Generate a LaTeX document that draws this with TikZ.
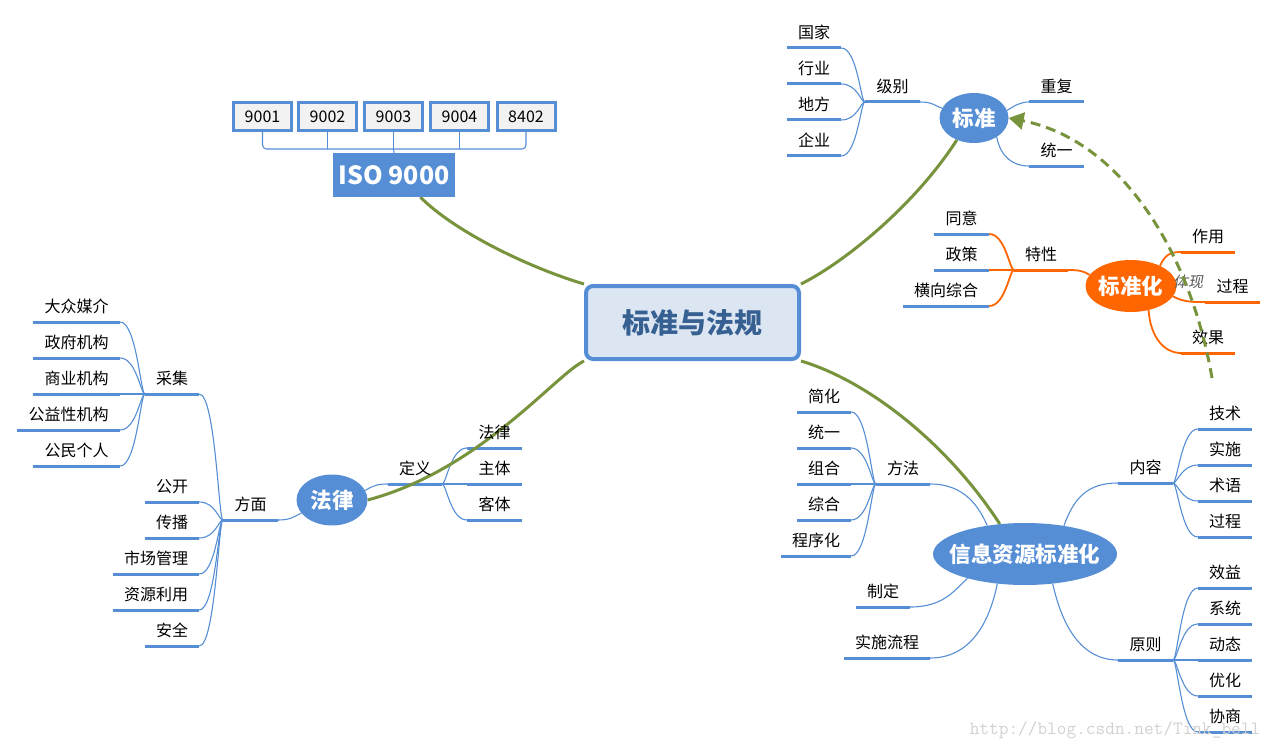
\documentclass[tikz,border=0pt]{standalone}
\usepackage{fontspec}
\setmainfont{Noto Sans CJK SC}
\newfontfamily\slantfont[FakeSlant=0.2]{Noto Sans CJK SC}
\usepackage{tikz}
\usetikzlibrary{arrows.meta,backgrounds,calc,shapes.geometric}

\definecolor{mapblue}{HTML}{558ED5}
\definecolor{rootfill}{HTML}{DCE6F2}
\definecolor{roottext}{HTML}{376092}
\definecolor{maporange}{HTML}{FF6600}
\definecolor{mapgreen}{HTML}{77933C}
\definecolor{boxfill}{HTML}{F2F2F2}
\definecolor{notegray}{HTML}{595959}

\begin{document}
\begin{tikzpicture}[x=1pt, y=-1pt,
    topic/.style={anchor=south, inner sep=0pt, text height=14pt, text depth=9pt,
      font=\fontsize{16}{16}\selectfont},
    bubble/.style={ellipse, fill=mapblue, inner xsep=-12pt, inner ysep=0pt, text=white,
      font=\fontsize{21.5}{22}\selectfont\bfseries},
    numbox/.style={draw=mapblue, line width=3pt, fill=boxfill, minimum width=58pt,
      minimum height=28pt, inner sep=0pt, font=\fontsize{16}{16}\selectfont},
    thinlink/.style={mapblue, line width=1.1pt},
    olink/.style={maporange, line width=1.8pt},
    uline/.style={mapblue, line width=3pt},
    ouline/.style={maporange, line width=3pt},
    trunk/.style={mapgreen, line width=3pt},
    lbranch/.style={to path={.. controls +(-4,0) and +(16,0) .. (\tikztotarget) \tikztonodes}},
    rbranch/.style={to path={.. controls +(4,0) and +(-16,0) .. (\tikztotarget) \tikztonodes}}]
  \useasboundingbox (0,0) rectangle (1277,749);

  % Disegna il nodo centrale
  \node[draw=mapblue, line width=4pt, rounded corners=7pt, fill=rootfill, minimum width=213pt,
    minimum height=73pt, inner sep=0pt, text=roottext,
    font=\fontsize{28}{28}\selectfont\bfseries] (root) at (692.5,322.5) {标准与法规};

  % Disegna ISO 9000 e le sue norme
  \node[fill=mapblue, minimum width=122pt, minimum height=44pt, inner sep=0pt, text=white,
    font=\fontsize{25}{25}\selectfont\bfseries] (iso) at (394,175) {ISO 9000};
  \node[numbox] (n9001) at (262.5,116.5) {9001};
  \node[numbox] (n9002) at (327.5,116.5) {9002};
  \node[numbox] (n9003) at (393.5,116.5) {9003};
  \node[numbox] (n9004) at (459.5,116.5) {9004};
  \node[numbox] (n8402) at (526,116.5) {8402};
  \coordinate (brk) at (393.5,149);

  % Disegna le ellissi dei rami principali
  \node[bubble, minimum width=69pt, minimum height=50pt] (std) at (974,118) {标准};
  \node[bubble, fill=maporange, minimum width=91pt, minimum height=52pt] (stdz) at (1131,286) {标准化};
  \node[bubble, minimum width=71pt, minimum height=51pt] (law) at (332,500) {法律};
  \node[bubble, minimum width=184pt, minimum height=62pt] (info) at (1025,554) {信息资源标准化};

  % Disegna i figli di 标准
  \node[topic, minimum width=55pt] (level) at (892.5,102) {级别};
  \node[topic, minimum width=54pt] (country) at (814,48) {国家};
  \node[topic, minimum width=54pt] (industry) at (814,84) {行业};
  \node[topic, minimum width=54pt] (local) at (814,120) {地方};
  \node[topic, minimum width=54pt] (company) at (814,156) {企业};
  \node[topic, minimum width=55pt] (repeat) at (1056.5,102) {重复};
  \node[topic, minimum width=55pt] (unify) at (1056.5,166) {统一};

  % Disegna i figli di 标准化
  \node[topic, minimum width=54pt] (trait) at (1041,270) {特性};
  \node[topic, minimum width=55pt] (agree) at (961.5,234) {同意};
  \node[topic, minimum width=55pt] (policy) at (961.5,270) {政策};
  \node[topic, minimum width=86pt] (cross) at (946,306) {横向综合};
  \node[topic, minimum width=54pt] (role) at (1208,252) {作用};
  \node[topic, minimum width=55pt] (proc) at (1232.5,302) {过程};
  \node[topic, minimum width=54pt] (effect) at (1208,353) {效果};

  % Disegna i figli di 法律
  \node[topic, minimum width=54pt] (collect) at (172,394) {采集};
  \node[topic, minimum width=87pt] (media) at (76.5,322) {大众媒介};
  \node[topic, minimum width=87pt] (gov) at (76.5,358) {政府机构};
  \node[topic, minimum width=87pt] (biz) at (76.5,394) {商业机构};
  \node[topic, minimum width=103pt] (welfare) at (68.5,430) {公益性机构};
  \node[topic, minimum width=87pt] (citizen) at (76.5,466) {公民个人};
  \node[topic, minimum width=55pt] (aspect) at (250.5,520) {方面};
  \node[topic, minimum width=54pt] (open) at (172,502) {公开};
  \node[topic, minimum width=54pt] (spread) at (172,538) {传播};
  \node[topic, minimum width=86pt] (market) at (156,574) {市场管理};
  \node[topic, minimum width=86pt] (reuse) at (156,610) {资源利用};
  \node[topic, minimum width=54pt] (safety) at (172,646) {安全};
  \node[topic, minimum width=54pt] (define) at (415,484) {定义};
  \node[topic, minimum width=55pt] (lawdef) at (494.5,448) {法律};
  \node[topic, minimum width=55pt] (subject) at (494.5,484) {主体};
  \node[topic, minimum width=55pt] (object) at (494.5,520) {客体};

  % Disegna i figli di 信息资源标准化
  \node[topic, minimum width=54pt] (method) at (903,484) {方法};
  \node[topic, minimum width=54pt] (simplify) at (824,412) {简化};
  \node[topic, minimum width=54pt] (unifyb) at (824,448) {统一};
  \node[topic, minimum width=54pt] (combine) at (824,484) {组合};
  \node[topic, minimum width=54pt] (synth) at (824,520) {综合};
  \node[topic, minimum width=70pt] (program) at (816,556) {程序化};
  \node[topic, minimum width=54pt] (make) at (883,607) {制定};
  \node[topic, minimum width=86pt] (flow) at (887,658) {实施流程};
  \node[topic, minimum width=55pt] (content) at (1145.5,483) {内容};
  \node[topic, minimum width=54pt] (tech) at (1225,429) {技术};
  \node[topic, minimum width=54pt] (impl) at (1225,465) {实施};
  \node[topic, minimum width=54pt] (term) at (1225,501) {术语};
  \node[topic, minimum width=54pt] (procb) at (1225,537) {过程};
  \node[topic, minimum width=55pt] (principle) at (1145.5,660) {原则};
  \node[topic, minimum width=54pt] (benefit) at (1225,588) {效益};
  \node[topic, minimum width=54pt] (system) at (1225,624) {系统};
  \node[topic, minimum width=54pt] (dynamic) at (1225,660) {动态};
  \node[topic, minimum width=54pt] (optimize) at (1225,696) {优化};
  \node[topic, minimum width=54pt] (consult) at (1225,732) {协商};

  \begin{scope}[on background layer]
    % Disegna la parentesi sotto le norme
    \draw[thinlink, rounded corners=4pt] (n9001.south) |- (brk) -| (n8402.south);
    \foreach \b in {n9002,n9003,n9004}
      \draw[thinlink] (\b.south) -- (\b.south |- brk);
    \draw[thinlink] (brk) -- (iso.north);

    % Disegna i collegamenti dalle ellissi
    \draw[thinlink] (level.south east) .. controls +(12,0) and +(-8,-3) .. (std.163);
    \draw[thinlink] (std.13) .. controls +(8,-5) and +(-8,0) .. (repeat.south west);
    \draw[thinlink] (std.-40) .. controls +(4,20) and +(-16,0) .. (unify.south west);
    \draw[olink] (trait.south east) .. controls +(10,0) and +(-6,-4) .. (stdz.165);
    \draw[olink] (stdz.35) .. controls +(5,-10) and +(-12,0) .. (role.south west);
    \draw[olink] (stdz.-14) .. controls +(12,6) and +(-12,0) .. (proc.south west);
    \draw[olink] (stdz.-54) .. controls +(2,28) and +(-16,0) .. (effect.south west);
    \draw[thinlink] (aspect.south east) .. controls +(12,0) and +(-8,4) .. (law.203);
    \draw[thinlink] (law.16) .. controls +(8,-5) and +(-10,0) .. (define.south west);
    \draw[thinlink] (method.south east) .. controls +(35,0) and +(-8,-18) .. (info.143);
    \draw[thinlink] (make.south east) .. controls +(35,0) and +(-12,10) .. (info.-157);
    \draw[thinlink] (flow.south east) .. controls +(45,0) and +(-6,30) .. (info.-133);
    \draw[thinlink] (info.36) .. controls +(10,-28) and +(-30,0) .. (content.south west);
    \draw[thinlink] (info.-47) .. controls +(10,45) and +(-35,0) .. (principle.south west);

    % Disegna i rami secondari
    \foreach \n in {country,industry,local,company}
      \draw[thinlink] (level.south west) to[lbranch] (\n.south east);
    \foreach \n in {agree,policy,cross}
      \draw[olink] (trait.south west) to[lbranch] (\n.south east);
    \foreach \n in {media,gov,biz,welfare,citizen}
      \draw[thinlink] (collect.south west) to[lbranch] (\n.south east);
    \foreach \n in {collect,open,spread,market,reuse,safety}
      \draw[thinlink] (aspect.south west) to[lbranch] (\n.south east);
    \foreach \n in {lawdef,subject,object}
      \draw[thinlink] (define.south east) to[rbranch] (\n.south west);
    \foreach \n in {simplify,unifyb,combine,synth,program}
      \draw[thinlink] (method.south west) to[lbranch] (\n.south east);
    \foreach \n in {tech,impl,term,procb}
      \draw[thinlink] (content.south east) to[rbranch] (\n.south west);
    \foreach \n in {benefit,system,dynamic,optimize,consult}
      \draw[thinlink] (principle.south east) to[rbranch] (\n.south west);

    % Disegna le sottolineature
    \foreach \n in {level,country,industry,local,company,repeat,unify,agree,policy,cross,
        collect,media,gov,biz,welfare,citizen,aspect,open,spread,market,reuse,safety,
        define,lawdef,subject,object,method,simplify,unifyb,combine,synth,program,make,flow,
        content,tech,impl,term,procb,principle,benefit,system,dynamic,optimize,consult}
      \draw[uline] (\n.south west) -- (\n.south east);
    \foreach \n in {trait,role,proc,effect}
      \draw[ouline] (\n.south west) -- (\n.south east);

    % Disegna i rami verdi dal nodo centrale
    \draw[trunk] (iso.-40) .. controls (455,232) and (530,268) .. (root.north west);
    \draw[trunk] (root.north east) .. controls (845,262) and (915,205) .. (std.-128);
    \draw[trunk] (root.south west) .. controls (555,375) and (480,470) .. (law.east);
    \draw[trunk] (root.south east) .. controls (865,380) and (945,440) .. (info.130);
  \end{scope}

  % Disegna la freccia tratteggiata
  \node[text=notegray, inner sep=0pt, font=\fontsize{15}{15}\slantfont] (embody) at (1188,282) {体现};
  \coordinate (dashstart) at (1212,378);
  \draw[trunk, dash pattern=on 10pt off 6pt, -{Triangle[length=15pt,width=17pt]}]
    (dashstart) .. controls (1190,250) and (1120,140) .. (std.east);

  % Scrive la filigrana
  \node[text=black!18, inner sep=0pt, font=\fontsize{18.8}{19}\ttfamily] (wm) at (1115,730)
    {http://blog.csdn.net/Tink\_bell};
\end{tikzpicture}
\end{document}
